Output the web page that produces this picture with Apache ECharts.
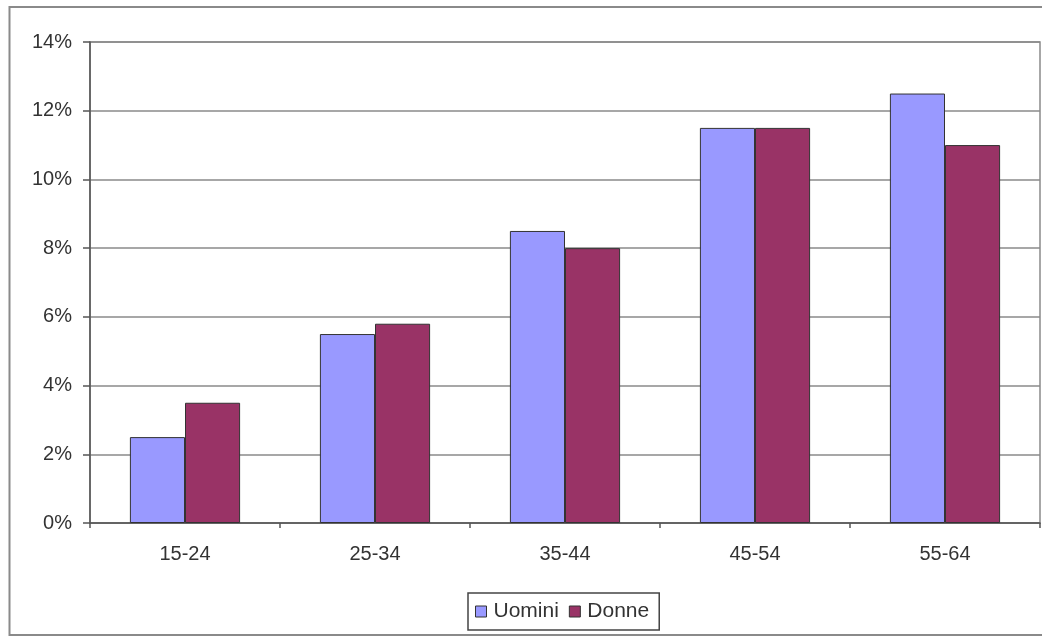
<!DOCTYPE html>
<html>
<head>
<meta charset="utf-8">
<script src="https://cdn.jsdelivr.net/npm/echarts@6/dist/echarts.min.js"></script>
<style>
html,body{margin:0;padding:0;background:#fff;}
#chart{width:1042px;height:637px;}
</style>
</head>
<body>
<div id="chart"></div>
<script>
const categories = ['15-24', '25-34', '35-44', '45-54', '55-64'];
const uomini = [2.5, 5.5, 8.5, 11.5, 12.5];
const donne = [3.5, 5.8, 8.0, 11.5, 11.0];
const seriesNames = ['Uomini', 'Donne'];

const chart = echarts.init(document.getElementById('chart'), null, {renderer: 'canvas'});
const font = 'Liberation Sans, Arial, sans-serif';
chart.setOption({
  animation: false,
  backgroundColor: '#fff',
  graphic: [
    {type: 'rect', shape: {x: 9.5, y: 7, width: 1100, height: 628}, style: {fill: 'none', stroke: '#8a8a8a', lineWidth: 2}, silent: true, z: -1}
  ],
  grid: {left: 90, right: 2, top: 42, bottom: 114, show: true, borderColor: '#8a8a8a', borderWidth: 1.5, backgroundColor: '#fff'},
  legend: {
    data: seriesNames,
    top: 593,
    left: 468,
    itemWidth: 11,
    itemHeight: 11,
    itemGap: 10,
    icon: 'rect',
    padding: [8, 10, 8, 7],
    borderColor: '#444',
    borderWidth: 1.5,
    itemStyle: {borderColor: '#333', borderWidth: 1},
    textStyle: {fontFamily: font, fontSize: 21, color: '#333', padding: [0, 0, 0, 2]}
  },
  xAxis: {
    type: 'category',
    data: categories,
    axisLine: {lineStyle: {color: '#555', width: 1.5}},
    axisTick: {show: true, length: 5, lineStyle: {color: '#555', width: 1.5}, alignWithLabel: false},
    axisLabel: {fontFamily: font, fontSize: 20, color: '#333', margin: 21}
  },
  yAxis: {
    type: 'value',
    min: 0,
    max: 14,
    interval: 2,
    axisLine: {show: true, lineStyle: {color: '#555', width: 1.5}},
    axisTick: {show: true, length: 7, lineStyle: {color: '#555', width: 1.5}},
    splitLine: {lineStyle: {color: '#8a8a8a', width: 1.5}},
    axisLabel: {fontFamily: font, fontSize: 20, color: '#333', margin: 18, formatter: v => v + '%'}
  },
  series: [
    {name: seriesNames[0], type: 'bar', data: uomini, barGap: '0%', barCategoryGap: '42%',
     itemStyle: {color: '#9999ff', borderColor: '#333', borderWidth: 1}},
    {name: seriesNames[1], type: 'bar', data: donne, barGap: '0%', barCategoryGap: '42%',
     itemStyle: {color: '#993366', borderColor: '#333', borderWidth: 1}}
  ]
});
</script>
</body>
</html>
